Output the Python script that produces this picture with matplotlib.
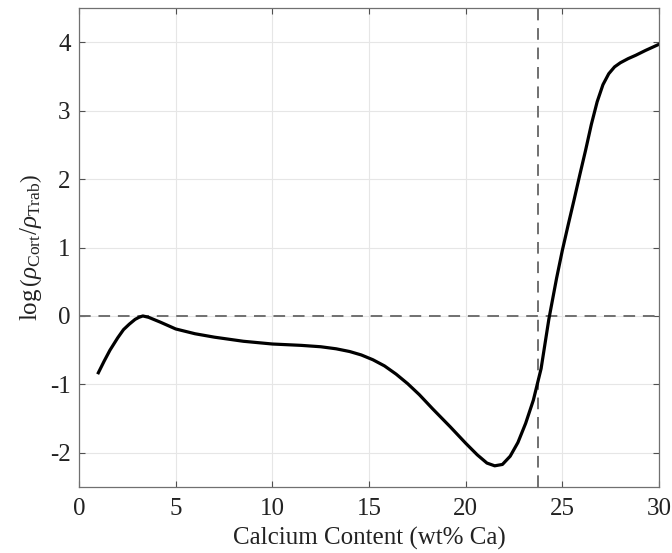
import matplotlib
matplotlib.use("Agg")
import matplotlib.pyplot as plt

# valores
calcio = [1.0, 1.3, 1.6, 2.0, 2.3, 2.6, 2.9, 3.1, 3.3, 3.6, 4.2, 5.0, 6.0, 7.0, 8.5,
          10.0, 11.5, 12.5, 13.3, 14.0, 14.6, 15.2, 15.8, 16.4, 17.0, 17.6, 18.3,
          19.2, 20.0, 20.6, 21.1, 21.5, 21.9, 22.3, 22.7, 23.1, 23.5, 23.9, 24.3,
          24.7, 25.0, 25.3, 25.6, 25.9, 26.2, 26.5, 26.8, 27.1, 27.4, 27.7, 28.0,
          28.4, 28.8, 29.3, 30.0]
log_razao = [-0.83, -0.66, -0.50, -0.32, -0.20, -0.12, -0.05, -0.02, 0.0, -0.02, -0.09,
             -0.19, -0.26, -0.31, -0.37, -0.41, -0.43, -0.45, -0.48, -0.52, -0.57,
             -0.64, -0.73, -0.85, -0.99, -1.15, -1.36, -1.62, -1.86, -2.03, -2.15,
             -2.19, -2.17, -2.05, -1.85, -1.57, -1.23, -0.77, -0.05, 0.55, 0.96,
             1.33, 1.69, 2.06, 2.42, 2.80, 3.13, 3.38, 3.54, 3.64, 3.70, 3.76, 3.81,
             3.88, 3.97]

linha_vertical = 23.75
ticks_x = [0, 5, 10, 15, 20, 25, 30]
ticks_y = [-2, -1, 0, 1, 2, 3, 4]

plt.rcParams['font.family'] = ['Liberation Serif', 'DejaVu Serif']
plt.rcParams['mathtext.fontset'] = 'custom'
plt.rcParams['mathtext.rm'] = 'Liberation Serif'
plt.rcParams['mathtext.it'] = 'Liberation Serif:italic'
plt.rcParams['axes.unicode_minus'] = False

fig = plt.figure(figsize=(6.72, 5.53), dpi=100)
ax = fig.add_axes([0.1176, 0.1193, 0.8631, 0.8662])

ax.grid(True, color="#e6e6e6", linewidth=0.8)
ax.set_axisbelow(True)
ax.axhline(0, color="#707070", linestyle=(0, (6, 4)), linewidth=1.4)
ax.axvline(linha_vertical, color="#707070", linestyle=(0, (6, 4)), linewidth=1.4)
ax.plot(calcio, log_razao, color="black", linewidth=2.3)

ax.set_xlim(0, 30)
ax.set_ylim(-2.5, 4.5)
ax.set_xticks(ticks_x)
ax.set_yticks(ticks_y)
ax.tick_params(direction="in", top=True, right=True, length=4, color="#505050",
               labelsize=18, labelcolor="#222222")
ax.tick_params(axis="x", pad=8)
ax.tick_params(axis="y", pad=6)
for s in ax.spines.values():
    s.set_color("#707070")
    s.set_linewidth(0.9)

ax.set_xlabel("Calcium Content (wt% Ca)", fontsize=18, color="#222222", labelpad=5)
ax.set_ylabel(r"$\log\left(\rho_{\rm Cort}/\rho_{\rm Trab}\right)$", fontsize=18,
              color="#222222", labelpad=4)

fig.savefig("out.png", dpi=100)
